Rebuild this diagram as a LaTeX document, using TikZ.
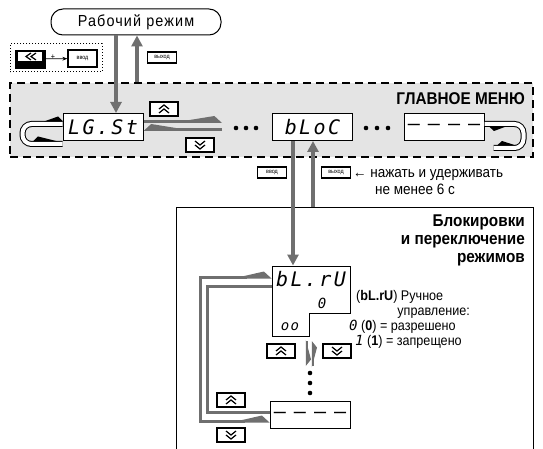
\documentclass[tikz,border=0pt]{standalone}
\usepackage{fontspec}
\setmainfont{Liberation Sans}[FakeStretch=0.9]
\newfontfamily\segfont{DejaVu Sans Mono}
\usepackage{tikz}
\usetikzlibrary{
  arrows.meta,
  positioning
}
\definecolor{mnGray}{HTML}{6F6F6F}
\definecolor{mnLight}{HTML}{E4E4E4}
\tikzset{
  frm/.style={draw, line width=1pt, fill=white, inner sep=0pt},
  modebox/.style={frm, rounded corners=12pt, minimum width=170pt, minimum height=26pt,
    font=\fontsize{16}{16}\selectfont\addfontfeature{LetterSpace=7}},
  disp/.style={frm, minimum width=80pt, minimum height=27pt,
    font=\segfont\itshape\fontsize{20}{20}\selectfont\addfontfeature{LetterSpace=12}},
  dashdisp/.style={disp, font=\segfont\fontsize{20}{20}\selectfont\addfontfeature{LetterSpace=40}},
  segsmall/.style={inner sep=0pt, font=\segfont\itshape\fontsize{14}{14}\selectfont\addfontfeature{LetterSpace=10}},
  btn/.style={frm, line width=1.2pt, minimum width=29pt, minimum height=11pt, font=\fontsize{6}{6}\selectfont},
  upkey/.style={btn, minimum width=28pt, minimum height=14pt,
    path picture={\draw[line width=1.2pt, shift={(path picture bounding box.center)}]
      (-5,0) -- (0,-4) -- (5,0) (-5,4) -- (0,0) -- (5,4);}},
  dnkey/.style={btn, minimum width=28pt, minimum height=14pt,
    path picture={\draw[line width=1.2pt, shift={(path picture bounding box.center)}]
      (-5,0) -- (0,4) -- (5,0) (-5,-4) -- (0,0) -- (5,-4);}},
  altkey/.style={draw, fill=black, minimum width=30pt, minimum height=18pt, inner sep=0pt,
    path picture={\fill[white, shift={(path picture bounding box.center)}] (-12,-7) rectangle (12,2);
      \draw[line width=1.2pt, shift={(path picture bounding box.center)}]
      (1,-6) -- (-4,-2.5) -- (1,1) (6,-6) -- (1,-2.5) -- (6,1);}},
  zone/.style={draw, fill=mnLight, line width=1.5pt, dash pattern=on 8pt off 5pt, inner sep=0pt},
  hintbox/.style={draw, line width=1pt, dotted, inner sep=0pt},
  heading/.style={inner sep=0pt, font=\bfseries\fontsize{17}{18}\selectfont},
  hintext/.style={inner sep=0pt, font=\fontsize{15}{15}\selectfont},
  ptext/.style={inner sep=0pt, font=\fontsize{14}{14}\selectfont},
  vflow/.style={draw=mnGray, line width=3.5pt, -{Triangle[length=11pt, width=11pt]}},
  scroll/.style={draw=mnGray, line width=3pt, -{Kite[harpoon, length=40pt, width=11pt, inset=34pt]}},
  scrollsw/.style={draw=mnGray, line width=3pt, -{Kite[harpoon, swap, length=40pt, width=11pt, inset=34pt]}},
  scrollboth/.style={draw=mnGray, line width=3pt,
    {Kite[harpoon, length=30pt, width=11pt, inset=24pt]}-{Kite[harpoon, length=30pt, width=11pt, inset=24pt]}},
  scrollplain/.style={draw=mnGray, line width=3pt},
  vscroll/.style={draw=mnGray, line width=2.5pt, -{Kite[harpoon, length=20pt, width=8pt, inset=15pt]}},
  vscrollsw/.style={draw=mnGray, line width=2.5pt, -{Kite[harpoon, swap, length=20pt, width=8pt, inset=15pt]}},
  tube/.style={draw=black, line width=1pt, double=white, double distance=4pt, rounded corners=9pt}
}

\begin{document}
\begin{tikzpicture}[x=1pt, y=-1pt]
  \useasboundingbox (0,0) rectangle (543,449);
  \node[zone, minimum width=523pt, minimum height=74pt] (menu) at (271.5,120) {};
  \draw[line width=1pt] (176,449) |- (533,207) -- (533,449);
  \coordinate (blkTop) at (313,207);
  \node[hintbox, minimum width=92pt, minimum height=28pt] (hint) at (56,58) {};

  \node[modebox] (work) at (136,22) {Рабочий режим};
  \node[altkey] (alt) at (30,59) {};
  \node[btn, minimum height=17pt] (enterA) at (82.5,58.5) {ввод};
  \node[btn] (exitA) at (162,57.5) {выход};
  \draw[-{Stealth[length=5pt]}, line width=0.8pt] (alt) -- node[pos=0.35, yshift=2pt, inner sep=0pt, font=\fontsize{8}{8}\selectfont] (plus) {+} (enterA);

  \node[heading, anchor=base east] (mainTitle) at (525,105) {ГЛАВНОЕ МЕНЮ};
  \node[disp] (lgst) at (103,127) {LG.St};
  \node[disp] (bloc) at (312.5,127) {bLoC};
  \node[dashdisp] (lastA) at (444,127) {––––};
  \node[upkey] (upA) at (164,109) {};
  \node[dnkey] (dnA) at (200,145) {};
  \foreach \x in {236,246,256} \fill (\x,128) circle (2.3pt);
  \foreach \x in {366,377,388} \fill (\x,128) circle (2.3pt);

  \node[btn] (enterB) at (272,172.5) {ввод};
  \node[btn] (exitB) at (336,172.5) {выход};
  \node[hintext, anchor=base west] (hold) at (353,178) {← нажать и удерживать};
  \node[hintext, anchor=base west] (holdB) at (375,194) {не менее 6 с};
  \node[heading, anchor=north east, align=right] (blkTitle) at (525,215) {Блокировки\\и переключение\\режимов};

  \draw[frm] (272,266) -- (350,266) -- (350,313) -- (309,313) -- (309,336) -- (272,336) -- cycle;
  \node[disp, draw=none, fill=none, minimum width=78pt, minimum height=26pt] (blru) at (311,279) {bL.rU};
  \node[segsmall] (blruVal) at (322,303) {0};
  \node[segsmall] (blruMode) at (290,327) {oo};
  \node[ptext, anchor=base west] (pName) at (356,300) {(\textbf{bL.rU}) Ручное};
  \node[ptext, anchor=base east] (pNameB) at (470,315) {управление:};
  \node[ptext, anchor=base west] (pOn) at (349,330) {{\segfont\itshape 0} (\textbf{0}) = разрешено};
  \node[ptext, anchor=base west] (pOff) at (355,345) {{\segfont\itshape 1} (\textbf{1}) = запрещено};

  \node[upkey] (upB) at (281,351) {};
  \node[dnkey] (dnB) at (337,351) {};
  \foreach \y in {373,383,393} \fill (310,\y) circle (2.3pt);
  \node[dashdisp] (lastB) at (310,415) {––––};
  \node[upkey] (upC) at (231,400) {};
  \node[dnkey] (dnC) at (231,435) {};

  \draw[vflow] (116,0 |- work.south) -- (116,0 |- lgst.north);
  \draw[vflow] (137,0 |- menu.north) -- (137,0 |- work.south);
  \draw[vflow] (293,0 |- bloc.south) -- (293,0 |- blru.north);
  \draw[vflow] (blkTop) -- (blkTop |- bloc.south);

  \coordinate (fwdEnd) at (222,121.5);
  \coordinate (backStart) at (222,129.5);
  \draw[scroll] (lgst.east |- fwdEnd) -- (fwdEnd);
  \draw[scrollsw] (backStart) -- (lgst.east |- backStart);

  \draw[scrollboth] (lastB.west |- 0,421) -| (200,277) -- (blru.west |- 0,277);
  \draw[scrollplain] (blru.west |- 0,286) -| (207,412) -- (lastB.west |- 0,412);

  \coordinate (vdA) at (307,341);
  \coordinate (vdB) at (307,366);
  \coordinate (vuA) at (313,366);
  \coordinate (vuB) at (313,341);
  \draw[vscroll] (vdA) -- (vdB);
  \draw[vscrollsw] (vuA) -- (vuB);

  \draw[tube] ([yshift=3pt]lgst.west) -- ++(-40,0) -- ++(0,20) -- ++(40,0);
  \fill (63,121.5) -- (58,116.5) -- (44,121.5) -- cycle;
  \fill (33,141.5) -- (38,136.5) -- (58,141.5) -- cycle;
  \draw[tube] ([yshift=3pt]lastA.east) -- ++(39,0) -- ++(0,24) -- ++(-30,0);
  \fill (489,126.5) -- (494,131) -- (506,126.5) -- cycle;
  \fill (497,145.5) -- (502,141) -- (516,145.5) -- cycle;
\end{tikzpicture}
\end{document}
